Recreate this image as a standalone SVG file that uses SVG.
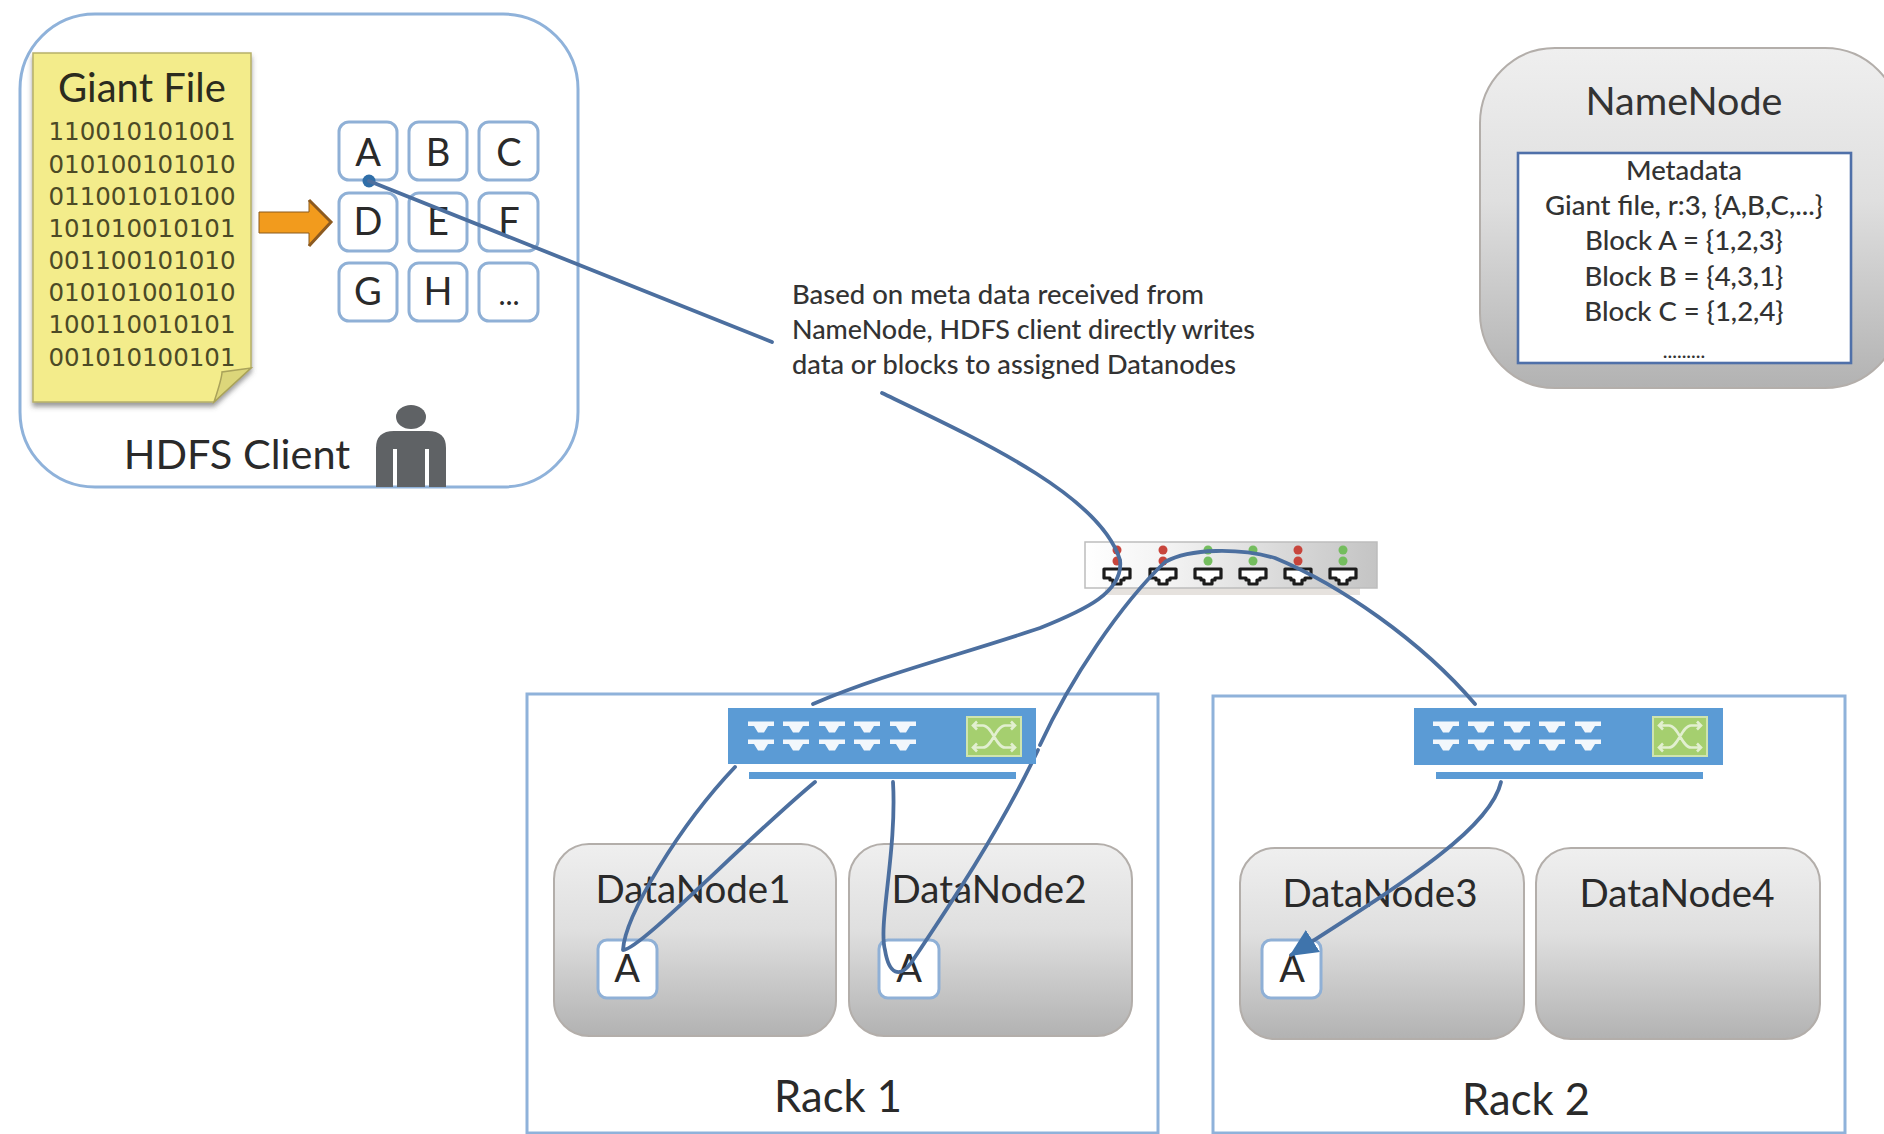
<svg xmlns="http://www.w3.org/2000/svg" width="1884" height="1134" viewBox="0 0 1884 1134">
<style>
text{font-family:Lato,"Liberation Sans",sans-serif;fill:#2a2a2a;text-anchor:middle}
.blk{fill:#fff;stroke:#8fb0d6;stroke-width:3}
.lt{font-size:38px}
.dn{fill:url(#g);stroke:#b3aeaa;stroke-width:2}
.dnt{font-size:38.5px}
.bin{font-family:"DejaVu Sans",sans-serif;font-size:24.5px;fill:#4c4a26}
.meta{font-size:27.5px;font-weight:500;fill:#333}
.rack{fill:#fff;stroke:#8fb2da;stroke-width:3}
.sw{fill:#5b9bd5}
.port{fill:#fff;opacity:.92}
.tp{fill:#fff;stroke:#1c1c1c;stroke-width:3.2;stroke-linejoin:round}
.con{fill:none;stroke:#4c6f9f;stroke-width:3.8;stroke-linecap:round;stroke-linejoin:round}
.r{fill:#c8453c}.gn{fill:#74bd5e}
.ga{fill:none;stroke:#e2efd0;stroke-width:2.6}
</style>
<defs>
<linearGradient id="g" x1="0" y1="0" x2="0" y2="1"><stop offset="0" stop-color="#efefef"/><stop offset=".45" stop-color="#dfdfdf"/><stop offset="1" stop-color="#b2b2b2"/></linearGradient>
<linearGradient id="ts" x1="0" y1="0" x2="1" y2="0"><stop offset="0" stop-color="#fff"/><stop offset=".3" stop-color="#f2f2f2"/><stop offset="1" stop-color="#c4c4c4"/></linearGradient>
<marker id="ah" markerUnits="userSpaceOnUse" markerWidth="30" markerHeight="30" refX="26" refY="13" orient="auto"><path d="M0 0L28 13L0 26Z" fill="#3f74ac"/></marker>
<filter id="sh" x="-5%" y="-5%" width="115%" height="115%"><feDropShadow dx="0" dy="4" stdDeviation="2.5" flood-color="#555" flood-opacity=".6"/></filter>
<g id="sp"><path class="port" d="M-13 -5.5H13V-1H7L3 5.5H-3L-7 -1H-13Z"/></g>
<g id="swp">
<use href="#sp" x="0" y="0"/><use href="#sp" x="35" y="0"/><use href="#sp" x="71" y="0"/><use href="#sp" x="106" y="0"/><use href="#sp" x="142" y="0"/>
<use href="#sp" x="0" y="18"/><use href="#sp" x="35" y="18"/><use href="#sp" x="71" y="18"/><use href="#sp" x="106" y="18"/><use href="#sp" x="142" y="18"/>
</g>
<g id="tpo"><path class="tp" d="M-13 -8H13V1H7V3H4V7H-4V3H-7V1H-13Z"/></g>
<g id="xing"><rect x="-27" y="-19.5" width="54" height="39" fill="#a5cf6f" stroke="#cfe4ae" stroke-width="2"/>
<path class="ga" d="M-21 -11H-11C-2 -11 2 11 11 11H21M-21 11H-11C-2 11 2 -11 11 -11H21M17 -15L21 -11L17 -7M17 7L21 11L17 15M-17 -15L-21 -11L-17 -7M-17 7L-21 11L-17 15"/></g>
</defs>
<rect width="1884" height="1134" fill="#fff"/>

<g id="hdfs-client">
<rect x="20" y="14" width="558" height="473" rx="75" ry="75" fill="#fff" stroke="#8fb2da" stroke-width="3"/>
<text x="237" y="469" font-size="41.5">HDFS Client</text>
<g id="person" fill="#5f6265">
<ellipse cx="411" cy="417" rx="15" ry="12"/>
<path d="M376 487V448Q376 431 394 431H428Q446 431 446 448V487H429V449H425V487H397V449H393V487Z"/>
</g>
</g>

<g id="giant-file">
<path d="M33 53H251V368L214 402H33Z" fill="#f3ec8b" stroke="#b7b06a" stroke-width="1.5" filter="url(#sh)"/>
<path d="M251 368L214 402Q222 378 222 372Z" fill="#dcd67a" stroke="#a9a25a" stroke-width="1.5"/>
<text x="142" y="102" font-size="40" style="fill:#2b2b1e">Giant File</text>
<g class="binlines">
<text class="bin" x="142" y="140">110010101001</text>
<text class="bin" x="142" y="173">010100101010</text>
<text class="bin" x="142" y="205">011001010100</text>
<text class="bin" x="142" y="237">101010010101</text>
<text class="bin" x="142" y="269">001100101010</text>
<text class="bin" x="142" y="301">010101001010</text>
<text class="bin" x="142" y="333">100110010101</text>
<text class="bin" x="142" y="366">001010100101</text>
</g>
</g>

<g id="split-arrow">
<path d="M259 212H309V200L331 222L309 246V233H259Z" fill="#f29b1d" stroke="#8a5a1e" stroke-width="1"/>
<path d="M309 200L331 222L309 246" fill="none" stroke="#8c5a20" stroke-width="3"/>
</g>

<g id="blocks">
<g id="block-A"><rect class="blk" x="339" y="122" width="58" height="58" rx="10"/><text class="lt" x="368" y="166">A</text></g>
<g id="block-B"><rect class="blk" x="409" y="122" width="58" height="58" rx="10"/><text class="lt" x="438" y="166">B</text></g>
<g id="block-C"><rect class="blk" x="479" y="122" width="59" height="58" rx="10"/><text class="lt" x="509" y="166">C</text></g>
<g id="block-D"><rect class="blk" x="339" y="193" width="58" height="58" rx="10"/><text class="lt" x="368" y="235">D</text></g>
<g id="block-E"><rect class="blk" x="409" y="193" width="58" height="58" rx="10"/><text class="lt" x="438" y="235">E</text></g>
<g id="block-F"><rect class="blk" x="479" y="193" width="59" height="58" rx="10"/><text class="lt" x="509" y="235">F</text></g>
<g id="block-G"><rect class="blk" x="339" y="263" width="58" height="58" rx="10"/><text class="lt" x="368" y="305">G</text></g>
<g id="block-H"><rect class="blk" x="409" y="263" width="58" height="58" rx="10"/><text class="lt" x="438" y="305">H</text></g>
<g id="block-more"><rect class="blk" x="479" y="263" width="59" height="58" rx="10"/><text class="lt" x="509" y="305" style="font-size:30px">...</text></g>
</g>

<g id="namenode">
<rect class="dn" x="1480" y="48" width="420" height="340" rx="75"/>
<rect x="1518" y="153" width="333" height="210" fill="#fff" stroke="#4f70a9" stroke-width="2.6"/>
<text x="1684" y="115" font-size="39.5" style="fill:#333">NameNode</text>
<text class="meta" x="1684" y="180">Metadata</text>
<text class="meta" x="1684" y="215">Giant file, r:3, {A,B,C,...}</text>
<text class="meta" x="1684" y="250">Block A = {1,2,3}</text>
<text class="meta" x="1684" y="286">Block B = {4,3,1}</text>
<text class="meta" x="1684" y="321">Block C = {1,2,4}</text>
<text class="meta" x="1684" y="358" style="font-size:20px">.........</text>
</g>

<g id="label">
<g style="font-size:26px">
<text x="792" y="304" style="text-anchor:start;fill:#333;font-weight:500" textLength="412" lengthAdjust="spacingAndGlyphs">Based on meta data received from</text>
<text x="792" y="339" style="text-anchor:start;fill:#333;font-weight:500" textLength="463" lengthAdjust="spacingAndGlyphs">NameNode, HDFS client directly writes</text>
<text x="792" y="374" style="text-anchor:start;fill:#333;font-weight:500" textLength="444" lengthAdjust="spacingAndGlyphs">data or blocks to assigned Datanodes</text>
</g>
</g>

<g id="core-switch">
<rect x="1105" y="588" width="255" height="7" fill="#e6e2de"/>
<rect x="1085" y="542" width="292" height="46" fill="url(#ts)" stroke="#bdbdbd" stroke-width="1.5"/>
<circle class="r" cx="1117" cy="550" r="4.5"/><circle class="r" cx="1117" cy="561" r="4.5"/>
<circle class="r" cx="1163" cy="550" r="4.5"/><circle class="r" cx="1163" cy="561" r="4.5"/>
<circle class="gn" cx="1208" cy="550" r="4.5"/><circle class="gn" cx="1208" cy="561" r="4.5"/>
<circle class="gn" cx="1253" cy="550" r="4.5"/><circle class="gn" cx="1253" cy="561" r="4.5"/>
<circle class="r" cx="1298" cy="550" r="4.5"/><circle class="r" cx="1298" cy="561" r="4.5"/>
<circle class="gn" cx="1343" cy="550" r="4.5"/><circle class="gn" cx="1343" cy="561" r="4.5"/>
<use href="#tpo" x="1117" y="577"/><use href="#tpo" x="1163" y="577"/><use href="#tpo" x="1208" y="577"/><use href="#tpo" x="1253" y="577"/><use href="#tpo" x="1298" y="577"/><use href="#tpo" x="1343" y="577"/>
</g>

<g id="rack-1">
<rect class="rack" x="527" y="694" width="631" height="439"/>
<text x="838" y="1112" font-size="43.5">Rack 1</text>
</g>
<g id="rack-2">
<rect class="rack" x="1213" y="696" width="632" height="437"/>
<text x="1526" y="1115" font-size="43.5">Rack 2</text>
</g>

<g id="datanode1">
<rect class="dn" x="554" y="844" width="282" height="192" rx="35"/>
<text class="dnt" x="693" y="903">DataNode1</text>
<rect class="blk" x="598" y="940" width="59" height="58" rx="9"/>
<text class="lt" x="627" y="982">A</text>
</g>
<g id="datanode2">
<rect class="dn" x="849" y="844" width="283" height="192" rx="35"/>
<text class="dnt" x="989" y="903">DataNode2</text>
<rect class="blk" x="879" y="940" width="60" height="58" rx="9"/>
<text class="lt" x="909" y="982">A</text>
</g>
<g id="datanode3">
<rect class="dn" x="1240" y="848" width="284" height="191" rx="35"/>
<text class="dnt" x="1380" y="907">DataNode3</text>
<rect class="blk" x="1262" y="940" width="59" height="58" rx="9"/>
<text class="lt" x="1292" y="982">A</text>
</g>
<g id="datanode4">
<rect class="dn" x="1536" y="848" width="284" height="191" rx="35"/>
<text class="dnt" x="1677" y="907">DataNode4</text>
</g>

<g id="connectors">
<circle cx="369" cy="181" r="6.5" fill="#2f6ea8"/>
<path class="con" d="M369 181L772 342"/>
<path class="con" d="M882 393C980 440 1100 495 1120 560C1124 592 1085 610 1040 628C960 655 880 675 813 704"/>
<path class="con" d="M735 767C680 825 625 915 623 950C640 950 745 840 815 782"/>
<path class="con" d="M893 782C897 850 878 925 885 950C889 975 900 978 911 963C950 905 1000 830 1038 750"/>
<path class="con" d="M1040 745C1070 680 1120 605 1165 562C1190 548 1240 548 1275 558C1340 585 1420 640 1475 704"/>
<path class="con" d="M1501 782C1490 830 1400 885 1291 955" marker-end="url(#ah)"/>
</g>

<g id="switch-1">
<rect class="sw" x="728" y="708" width="308" height="56"/>
<rect class="sw" x="749" y="772" width="267" height="7"/>
<use href="#swp" x="761" y="727"/>
<use href="#xing" x="994" y="736.5"/>
</g>
<g id="switch-2">
<rect class="sw" x="1414" y="708" width="309" height="57"/>
<rect class="sw" x="1436" y="772" width="267" height="7"/>
<use href="#swp" x="1446" y="727"/>
<use href="#xing" x="1680" y="736.5"/>
</g>
</svg>
